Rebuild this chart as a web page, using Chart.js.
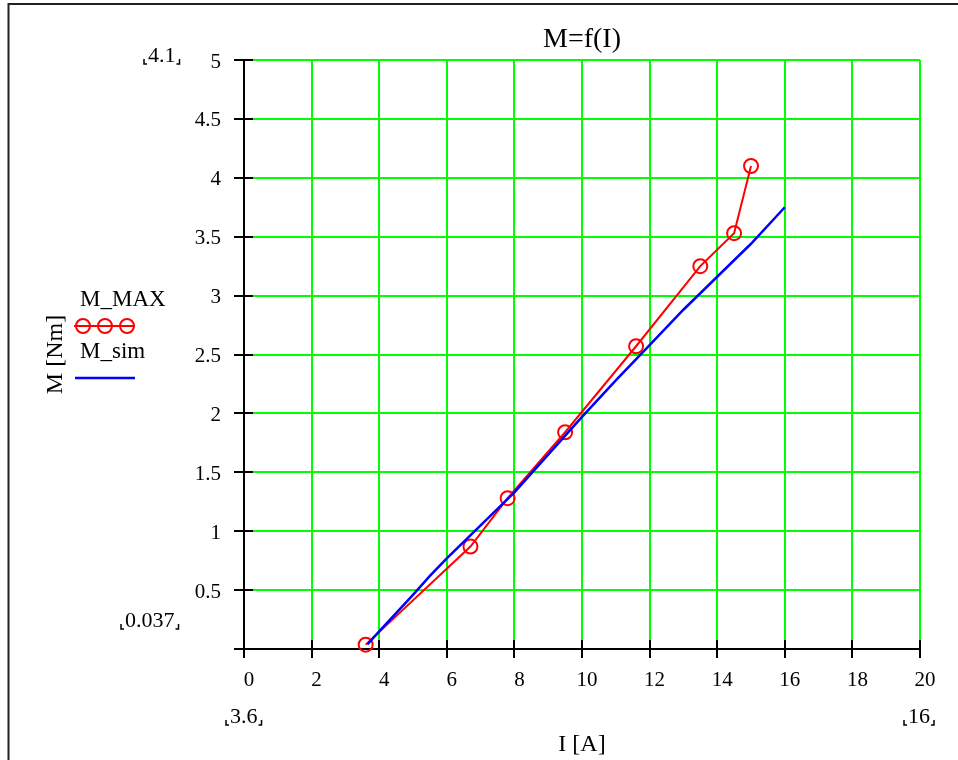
<!DOCTYPE html>
<html><head><meta charset="utf-8">
<script src="https://cdn.jsdelivr.net/npm/chart.js@4"></script>
<style>html,body{margin:0;padding:0;background:#fff;}</style>
</head><body>
<canvas id="c" width="958" height="760"></canvas>
<script>
// ---- data ----
const chartTitle = 'M=f(I)';
const xAxisTitle = 'I [A]';
const yAxisTitle = 'M [Nm]';
const seriesNames = ['M_MAX', 'M_sim'];
const maxCurrent = [3.6, 6.7, 7.8, 9.5, 11.6, 13.5, 14.5, 15.0];
const maxTorque  = [0.037, 0.87, 1.28, 1.84, 2.57, 3.25, 3.53, 4.1];
const simCurrent = [3.65, 4, 5, 5.5, 6, 7, 8, 9, 10, 11, 12, 13, 14, 15, 16];
const simTorque  = [0.04, 0.15, 0.46, 0.62, 0.77, 1.05, 1.33, 1.65, 1.97, 2.28, 2.58, 2.88, 3.16, 3.44, 3.75];
const xTickValues = [0, 2, 4, 6, 8, 10, 12, 14, 16, 18, 20];
const yTickValues = [0, 0.5, 1, 1.5, 2, 2.5, 3, 3.5, 4, 4.5, 5];
const yTickLabels = ['', '0.5', '1', '1.5', '2', '2.5', '3', '3.5', '4', '4.5', '5'];
const yRangeLabels = ['0.037', '4.1'];
const xRangeLabels = ['3.6', '16'];

const SERIF = "'Liberation Serif', 'Times New Roman', serif";
const RED = '#ff0000', BLUE = '#0000ff', GREEN = '#00ff00';

const frame = {
  id: 'frame',
  beforeDraw(chart) {
    const c = chart.ctx;
    c.save();
    c.fillStyle = '#fff';
    c.fillRect(0, 0, chart.width, chart.height);
    c.strokeStyle = '#222';
    c.lineWidth = 2;
    c.beginPath();
    c.moveTo(8.5, 760); c.lineTo(8.5, 4); c.lineTo(958, 4);
    c.stroke();
    c.restore();
  }
};

const innerTicks = {
  id: 'innerTicks',
  beforeDatasetsDraw(chart) {
    const c = chart.ctx, x = chart.scales.x, y = chart.scales.y;
    const a = chart.chartArea;
    c.save();
    c.strokeStyle = '#000';
    c.lineWidth = 2;
    c.beginPath();
    x.ticks.forEach((t, i) => {
      const px = Math.round(x.getPixelForTick(i));
      c.moveTo(px, a.bottom); c.lineTo(px, a.bottom - 9);
    });
    y.ticks.forEach((t, i) => {
      const py = Math.round(y.getPixelForTick(i));
      c.moveTo(a.left, py); c.lineTo(a.left + 9, py);
    });
    c.stroke();
    c.restore();
  }
};

function rangeMarker(c, text, xLeft, baseline) {
  c.fillText(text, xLeft, baseline);
  const w = c.measureText(text).width;
  c.beginPath();
  c.moveTo(xLeft - 4, baseline - 3); c.lineTo(xLeft - 4, baseline + 2); c.lineTo(xLeft - 1, baseline + 2);
  const r = xLeft + w + 4;
  c.moveTo(r - 3, baseline + 2); c.lineTo(r, baseline + 2); c.lineTo(r, baseline - 3);
  c.stroke();
}

const extras = {
  id: 'extras',
  afterDraw(chart) {
    const c = chart.ctx;
    c.save();
    c.fillStyle = '#000';
    c.strokeStyle = '#000';
    c.lineWidth = 1.5;
    c.textBaseline = 'alphabetic';
    c.textAlign = 'left';
    c.font = '22px ' + SERIF;
    // axis range markers
    rangeMarker(c, yRangeLabels[1], 148, 62);
    rangeMarker(c, yRangeLabels[0], 125, 627);
    rangeMarker(c, xRangeLabels[0], 230, 723);
    rangeMarker(c, xRangeLabels[1], 908, 723);
    // legend
    c.font = '23px ' + SERIF;
    c.fillText(seriesNames[0], 80, 306);
    c.fillText(seriesNames[1], 80, 358);
    c.lineWidth = 2;
    c.strokeStyle = RED;
    c.beginPath(); c.moveTo(74, 326); c.lineTo(135, 326); c.stroke();
    [83, 105, 127].forEach(cx => { c.beginPath(); c.arc(cx, 326, 7, 0, Math.PI * 2); c.stroke(); });
    c.lineWidth = 2.5;
    c.strokeStyle = BLUE;
    c.beginPath(); c.moveTo(75, 378); c.lineTo(135, 378); c.stroke();
    c.restore();
  }
};

new Chart(document.getElementById('c'), {
  type: 'scatter',
  data: {
    datasets: [
      {
        label: seriesNames[0],
        data: maxCurrent.map((v, i) => ({x: v, y: maxTorque[i]})),
        showLine: true,
        borderColor: RED,
        borderWidth: 2,
        backgroundColor: 'rgba(0,0,0,0)',
        pointStyle: 'circle',
        pointRadius: 7,
        pointBorderWidth: 2,
        pointBorderColor: RED,
        pointBackgroundColor: 'rgba(0,0,0,0)',
        tension: 0,
        clip: false,
        order: 2
      },
      {
        label: seriesNames[1],
        data: simCurrent.map((v, i) => ({x: v, y: simTorque[i]})),
        showLine: true,
        borderColor: BLUE,
        borderWidth: 2.5,
        pointRadius: 0,
        tension: 0,
        clip: false,
        order: 1
      }
    ]
  },
  options: {
    responsive: false,
    devicePixelRatio: 1,
    animation: false,
    layout: {padding: {left: 0, top: 0, right: 38, bottom: 0}},
    plugins: {
      legend: {display: false},
      tooltip: {enabled: false},
      title: {
        display: true,
        text: chartTitle,
        fullSize: false,
        color: '#000',
        font: {family: SERIF, size: 28, weight: 'normal', lineHeight: 1.2},
        padding: {top: 23, bottom: 3.4}
      }
    },
    scales: {
      x: {
        type: 'linear',
        min: 0, max: 20,
        afterBuildTicks: s => { s.ticks = xTickValues.map(v => ({value: v})); },
        afterFit: s => { s.height = 111; },
        grid: {color: GREEN, lineWidth: 2, tickColor: '#000', tickLength: 9, tickWidth: 2, drawTicks: true},
        border: {display: true, color: '#000', width: 2},
        ticks: {color: '#000', font: {family: SERIF, size: 21}, padding: 10, labelOffset: 5, maxRotation: 0, autoSkip: false},
        title: {display: true, text: xAxisTitle, color: '#000', font: {family: SERIF, size: 24, lineHeight: 1.2}, padding: {top: 0, bottom: 1}}
      },
      y: {
        type: 'linear',
        min: 0, max: 5,
        afterBuildTicks: s => { s.ticks = yTickValues.map(v => ({value: v})); },
        afterFit: s => { s.width = 244; },
        grid: {color: GREEN, lineWidth: 2, tickColor: '#000', tickLength: 10, tickWidth: 2, drawTicks: true},
        border: {display: true, color: '#000', width: 2},
        ticks: {color: '#000', font: {family: SERIF, size: 21}, padding: 13, labelOffset: 2, autoSkip: false,
          callback: (v, i) => yTickLabels[i]},
        title: {display: true, text: yAxisTitle, color: '#000', font: {family: SERIF, size: 24, lineHeight: 1.2}, padding: {top: 41, bottom: 0}}
      }
    }
  },
  plugins: [frame, innerTicks, extras]
});
</script>
</body></html>
